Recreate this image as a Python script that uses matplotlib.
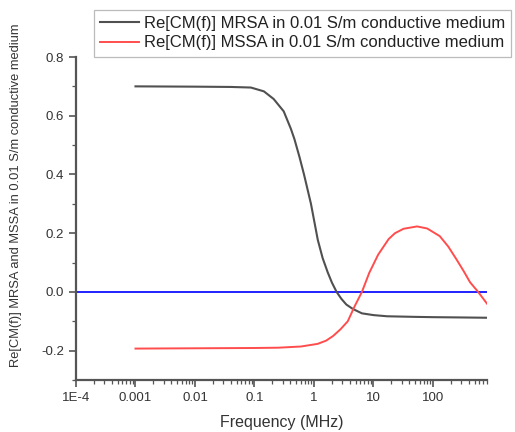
"""Re[CM(f)] of MRSA and MSSA in a 0.01 S/m medium, Origin-like styling."""

import matplotlib

matplotlib.use("Agg")
import matplotlib.pyplot as plt
from matplotlib.ticker import FixedLocator, LogLocator, NullFormatter, MultipleLocator

plt.rcParams["font.family"] = ["Liberation Sans", "DejaVu Sans"]

# values (frequency in MHz)
mrsa_freq = [0.001, 0.01, 0.04, 0.087, 0.144, 0.21, 0.31, 0.41, 0.47, 0.57, 0.68, 0.89,
             1.16, 1.4, 1.7, 2.0, 2.4, 2.9, 3.5, 4.5, 6.4, 10, 17, 50, 100, 300, 800]
mrsa_val = [0.700, 0.699, 0.698, 0.696, 0.683, 0.657, 0.615, 0.555, 0.520, 0.46, 0.40, 0.30,
            0.177, 0.115, 0.067, 0.032, 0.0, -0.024, -0.043, -0.058, -0.073, -0.079, -0.083,
            -0.085, -0.086, -0.087, -0.088]

mssa_freq = [0.001, 0.01, 0.1, 0.25, 0.6, 1.15, 1.6, 2.1, 2.8, 3.7, 4.8, 6.4, 8.5, 12, 18,
             23, 32, 54, 80, 130, 180, 250, 330, 420, 575, 810]
mssa_val = [-0.193, -0.192, -0.191, -0.19, -0.186, -0.177, -0.166, -0.15, -0.127, -0.10, -0.05,
            0.0, 0.065, 0.127, 0.18, 0.2, 0.215, 0.223, 0.216, 0.19, 0.155, 0.11, 0.07,
            0.033, 0.0, -0.04]

x_ticks = [1e-4, 1e-3, 1e-2, 1e-1, 1, 10, 100]
x_tick_labels = ["1E-4", "0.001", "0.01", "0.1", "1", "10", "100"]
y_ticks = [-0.2, 0.0, 0.2, 0.4, 0.6, 0.8]
y_tick_labels = ["-0.2", "0.0", "0.2", "0.4", "0.6", "0.8"]

fig = plt.figure(figsize=(5.15, 4.32), dpi=100)
ax = fig.add_axes([76 / 515, 1 - 380 / 432, (487 - 76) / 515, (380 - 57) / 432])

ax.plot(mrsa_freq, mrsa_val, color="#505050", lw=1.5,
        label="Re[CM(f)] MRSA in 0.01 S/m conductive medium")
ax.plot(mssa_freq, mssa_val, color="#ff4d4d", lw=1.4,
        label="Re[CM(f)] MSSA in 0.01 S/m conductive medium")
ax.axhline(0.0, color="#2020ff", lw=1.4, zorder=1)

ax.set_xscale("log")
ax.set_xlim(1e-4, 810)
ax.set_ylim(-0.3, 0.8)

ax.xaxis.set_major_locator(FixedLocator(x_ticks))
ax.set_xticklabels(x_tick_labels)
ax.xaxis.set_minor_locator(LogLocator(base=10, subs=range(2, 10), numticks=20))
ax.xaxis.set_minor_formatter(NullFormatter())
ax.yaxis.set_major_locator(FixedLocator(y_ticks))
ax.set_yticklabels(y_tick_labels)
ax.yaxis.set_minor_locator(MultipleLocator(0.1))

for side in ("top", "right"):
    ax.spines[side].set_visible(False)
for side in ("left", "bottom"):
    ax.spines[side].set_color("#555555")
    ax.spines[side].set_linewidth(1.6)

ax.tick_params(which="major", direction="out", length=5, width=1.2, colors="#555555",
               labelcolor="#333333", labelsize=9.5)
ax.tick_params(which="minor", direction="out", length=3, width=0.9, colors="#555555")

fig.text(0.5 * (76 + 487) / 515, 1 - 423 / 432, "Frequency (MHz)", ha="center", va="center",
         fontsize=11.5, color="#333333")
fig.text(16 / 515, 1 - 195 / 432, "Re[CM(f)] MRSA and MSSA in 0.01 S/m conductive medium",
         rotation=90, ha="center", va="center", fontsize=9.3, color="#333333")

leg = fig.legend(loc="upper left", bbox_to_anchor=(94 / 515, 1 - 10 / 432), fontsize=12.0,
                 frameon=True, fancybox=False, edgecolor="#aaaaaa", borderpad=0.38,
                 handlelength=2.3, handletextpad=0.3, labelspacing=0.25, borderaxespad=0)
leg.get_frame().set_linewidth(0.9)
for text in leg.get_texts():
    text.set_color("#222222")

fig.savefig("out.png", dpi=100)
